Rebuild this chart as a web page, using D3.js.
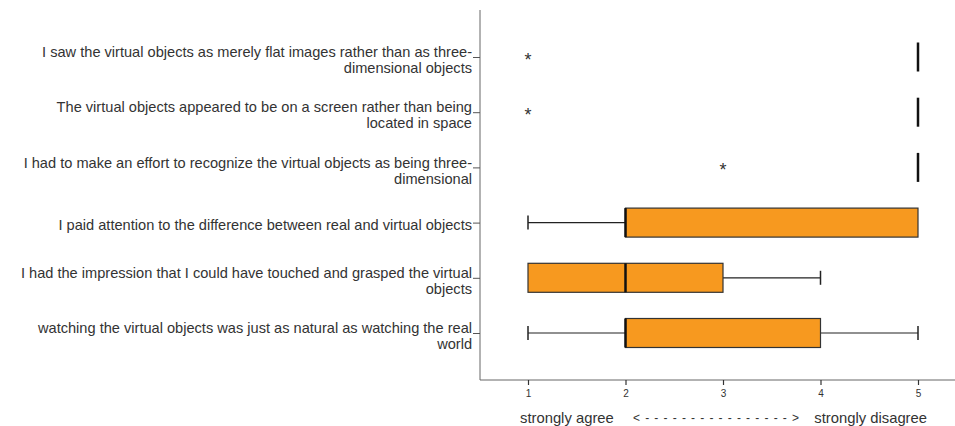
<!DOCTYPE html>
<html>
<head>
<meta charset="utf-8">
<script src="https://cdn.jsdelivr.net/npm/d3@7"></script>
<style>
  body { margin: 0; background: #fff; }
  svg { display: block; }
  text { font-family: "Liberation Sans", Arial, sans-serif; }
</style>
</head>
<body>
<svg id="chart" width="955" height="426"></svg>
<script>
const categories = [
  "I saw the virtual objects as merely flat images rather than as three-dimensional objects",
  "The virtual objects appeared to be on a screen rather than being located in space",
  "I had to make an effort to recognize the virtual objects as being three-dimensional",
  "I paid attention to the difference between real and virtual objects",
  "I had the impression that I could have touched and grasped the virtual objects",
  "watching the virtual objects was just as natural as watching the real world"
];
const labelLines = [
  ["I saw the virtual objects as merely flat images rather than as three-", "dimensional objects"],
  ["The virtual objects appeared to be on a screen rather than being", "located in space"],
  ["I had to make an effort to recognize the virtual objects as being three-", "dimensional"],
  ["I paid attention to the difference between real and virtual objects"],
  ["I had the impression that I could have touched and grasped the virtual", "objects"],
  ["watching the virtual objects was just as natural as watching the real", "world"]
];
const mins    = [5, 5, 5, 1, 1, 1];
const q1s     = [5, 5, 5, 2, 1, 2];
const medians = [5, 5, 5, 2, 2, 2];
const q3s     = [5, 5, 5, 5, 3, 4];
const maxs    = [5, 5, 5, 5, 4, 5];
const outliers = [[1], [1], [3], [], [], []];
const tickValues = [1, 2, 3, 4, 5];
const axisTitleLeft = "strongly agree";
const axisTitleArrow = "< - - - - - - - - - - - - - - - - >";
const axisTitleRight = "strongly disagree";

const svg = d3.select("#chart");
const x = d3.scaleLinear().domain([1, 5]).range([528, 918]);
const y = d3.scalePoint().domain(categories).range([57, 333]);
const axisX0 = 480, axisY0 = 380;
const boxH = 29, capH = 14;
const orange = "#F7991F";

// axis lines
svg.append("line").attr("x1", axisX0).attr("x2", axisX0).attr("y1", 10).attr("y2", axisY0)
  .attr("stroke", "#666").attr("stroke-width", 1);
svg.append("line").attr("x1", axisX0).attr("x2", 955).attr("y1", axisY0).attr("y2", axisY0)
  .attr("stroke", "#666").attr("stroke-width", 1);

// x axis ticks
const gx = svg.append("g").attr("transform", `translate(0,${axisY0})`)
  .call(d3.axisBottom(x).tickValues(tickValues).tickSize(5).tickPadding(5).tickFormat(d3.format("d")));
gx.select(".domain").remove();
gx.selectAll(".tick line").attr("stroke", "#333").attr("stroke-width", 1.2);
gx.selectAll(".tick text").attr("fill", "#333").style("font-size", "10px")
  .style("font-family", "'Liberation Sans', Arial, sans-serif");

// y axis ticks
const gy = svg.append("g").attr("transform", `translate(${axisX0},0)`)
  .call(d3.axisLeft(y).tickSize(7).tickFormat(""));
gy.select(".domain").remove();
gy.selectAll(".tick line").attr("stroke", "#555").attr("stroke-width", 1);

// labels
categories.forEach((c, i) => {
  const lines = labelLines[i];
  const cy = y(c);
  const t = svg.append("text").attr("text-anchor", "end").attr("fill", "#333")
    .style("font-size", "14.6px");
  lines.forEach((ln, j) => {
    const yy = lines.length === 1 ? cy + 2 : cy - 5 + j * 16;
    t.append("tspan").attr("x", 472).attr("y", yy).attr("dy", "0.35em").text(ln);
  });
});

// boxes
const rows = categories.map((c, i) => ({c, min: mins[i], q1: q1s[i], med: medians[i], q3: q3s[i], max: maxs[i], out: outliers[i]}));
const g = svg.append("g");
rows.forEach(r => {
  const cy = y(r.c);
  if (r.min < r.q1) {
    g.append("line").attr("x1", x(r.min)).attr("x2", x(r.q1)).attr("y1", cy).attr("y2", cy).attr("stroke", "#222").attr("stroke-width", 1.2);
    g.append("line").attr("x1", x(r.min)).attr("x2", x(r.min)).attr("y1", cy - capH/2).attr("y2", cy + capH/2).attr("stroke", "#222").attr("stroke-width", 1.5);
  }
  if (r.max > r.q3) {
    g.append("line").attr("x1", x(r.q3)).attr("x2", x(r.max)).attr("y1", cy).attr("y2", cy).attr("stroke", "#222").attr("stroke-width", 1.2);
    g.append("line").attr("x1", x(r.max)).attr("x2", x(r.max)).attr("y1", cy - capH/2).attr("y2", cy + capH/2).attr("stroke", "#222").attr("stroke-width", 1.5);
  }
  if (r.q3 > r.q1) {
    g.append("rect").attr("x", x(r.q1)).attr("y", cy - boxH/2).attr("width", x(r.q3) - x(r.q1)).attr("height", boxH)
      .attr("fill", orange).attr("stroke", "#333").attr("stroke-width", 1.2);
  }
  g.append("line").attr("x1", x(r.med)).attr("x2", x(r.med)).attr("y1", cy - boxH/2).attr("y2", cy + boxH/2)
    .attr("stroke", "#111").attr("stroke-width", 2.5);
  r.out.forEach(o => {
    g.append("text").attr("x", x(o)).attr("y", cy + 9).attr("text-anchor", "middle")
      .attr("fill", "#333").style("font-size", "18px").text("*");
  });
});

// axis title
const ty = 423;
svg.append("text").attr("x", 520).attr("y", ty).attr("fill", "#333").style("font-size", "14.8px").text(axisTitleLeft);
svg.append("text").attr("x", 716).attr("y", ty - 1).attr("text-anchor", "middle").attr("fill", "#333")
  .style("font-size", "12px").attr("textLength", 166).attr("lengthAdjust", "spacing").text(axisTitleArrow);
svg.append("text").attr("x", 927).attr("y", ty).attr("text-anchor", "end").attr("fill", "#333").style("font-size", "14.8px").text(axisTitleRight);
</script>
</body>
</html>
